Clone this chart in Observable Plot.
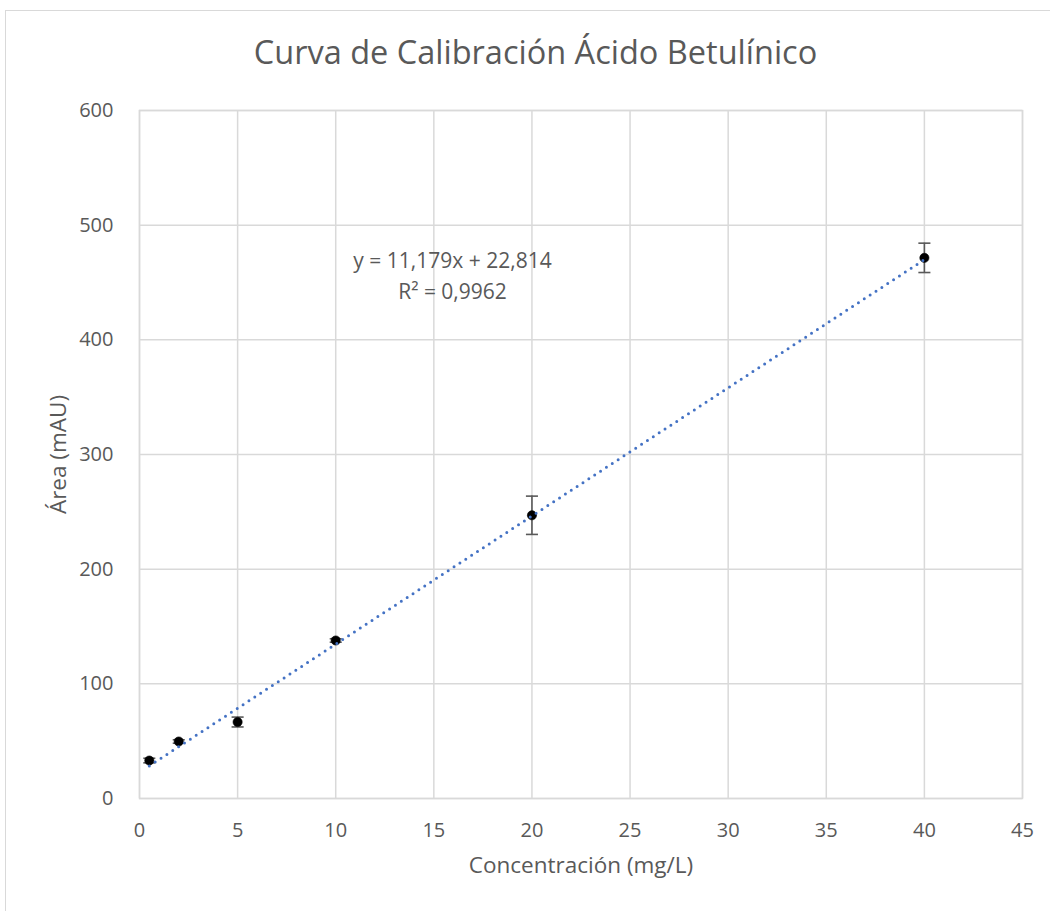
<!DOCTYPE html>
<html>
<head>
<meta charset="utf-8">
<script src="https://cdn.jsdelivr.net/npm/d3@7"></script>
<script src="https://cdn.jsdelivr.net/npm/@observablehq/plot@0.6"></script>
<style>
  html, body { margin: 0; padding: 0; background: #fff; }
  #chart { position: relative; width: 1050px; height: 911px; overflow: hidden; }
  #border { position: absolute; left: 5px; top: 10px; width: 1060px; height: 920px;
            border: 1.5px solid #d9d9d9; box-sizing: border-box; }
  #title { position: absolute; left: 0; top: 29px; width: 1071px; text-align: center;
           font-family: "Open Sans", sans-serif; font-size: 32.5px; color: #595959; }
  #chart svg { position: absolute; left: 0; top: 0; }
</style>
</head>
<body>
<div id="chart">
  <div id="border"></div>
  <div id="title">Curva de Calibración Ácido Betulínico</div>
</div>
<script>
// Calibration standards: concentration (mg/L), mean peak area (mAU), error (±)
const concentration = [0.5, 2, 5, 10, 20, 40];
const area = [33.1, 49.7, 66.7, 137.8, 247.0, 471.5];
const areaError = [2.0, 1.5, 4.3, 1.5, 16.7, 12.8];

// Linear fit reported on the chart
const slope = 11.179;
const intercept = 22.814;
const rSquared = 0.9962;
const fitRange = [0.5, 40];

// Axis ticks
const xTicks = [0, 5, 10, 15, 20, 25, 30, 35, 40, 45];
const yTicks = [0, 100, 200, 300, 400, 500, 600];

const points = concentration.map((c, i) => ({ c, a: area[i], e: areaError[i] }));
const fit = fitRange.map(c => ({ c, a: slope * c + intercept }));

const fmt = (v, d) => v.toFixed(d).replace(".", ",");
const equation = [`y = ${fmt(slope, 3)}x + ${fmt(intercept, 3)}`, `R² = ${fmt(rSquared, 4)}`];

// Horizontal cap used at both ends of the error bars
const capSymbol = {
  draw(context, size) {
    const w = Math.sqrt(size);
    context.moveTo(-w, 0);
    context.lineTo(w, 0);
  }
};

const textColor = "#595959";
const gridColor = "#d9d9d9";
const font = "'Open Sans', sans-serif";

const chart = Plot.plot({
  width: 1050,
  height: 911,
  marginLeft: 139,
  marginRight: 28,
  marginTop: 110,
  marginBottom: 113,
  style: { fontFamily: font, color: textColor, background: "transparent", overflow: "visible" },
  x: { domain: [0, 45] },
  y: { domain: [0, 600] },
  marks: [
    Plot.gridX(xTicks, { stroke: gridColor, strokeOpacity: 1, strokeWidth: 1.5 }),
    Plot.gridY(yTicks, { stroke: gridColor, strokeOpacity: 1, strokeWidth: 1.5 }),
    Plot.frame({ stroke: gridColor, strokeWidth: 1.5 }),
    Plot.axisX(xTicks, { tickSize: 0, tickPadding: 24, fontSize: 20, label: null, fill: textColor }),
    Plot.axisY(yTicks, { tickSize: 0, tickPadding: 26, fontSize: 20, label: null, fill: textColor }),
    Plot.text(["Concentración (mg/L)"], { frameAnchor: "bottom", textAnchor: "middle", dy: 74, fontSize: 22.5, fill: textColor }),
    Plot.text(["Área (mAU)"], { frameAnchor: "left", textAnchor: "middle", dx: -81, rotate: -90, fontSize: 22.5, fill: textColor }),
    // error bars
    Plot.ruleX(points, { x: "c", y1: d => d.a - d.e, y2: d => d.a + d.e, stroke: textColor, strokeWidth: 1.6 }),
    Plot.dot(points, { x: "c", y: d => d.a - d.e, symbol: capSymbol, r: 3.4, stroke: textColor, strokeWidth: 1.6 }),
    Plot.dot(points, { x: "c", y: d => d.a + d.e, symbol: capSymbol, r: 3.4, stroke: textColor, strokeWidth: 1.6 }),
    // measured points
    Plot.dot(points, { x: "c", y: "a", r: 4.6, fill: "#000", stroke: "#000", strokeWidth: 0.6 }),
    // dotted linear trendline
    Plot.line(fit, { x: "c", y: "a", stroke: "#4472c4", strokeWidth: 3, strokeDasharray: "0 7", strokeLinecap: "round" }),
    // regression equation
    Plot.text([equation[0]], { frameAnchor: "top-left", textAnchor: "middle", dx: 313, dy: 143, fontSize: 21, fill: textColor }),
    Plot.text([equation[1]], { frameAnchor: "top-left", textAnchor: "middle", dx: 313, dy: 174, fontSize: 21, fill: textColor })
  ]
});

document.getElementById("chart").appendChild(chart);
</script>
</body>
</html>
